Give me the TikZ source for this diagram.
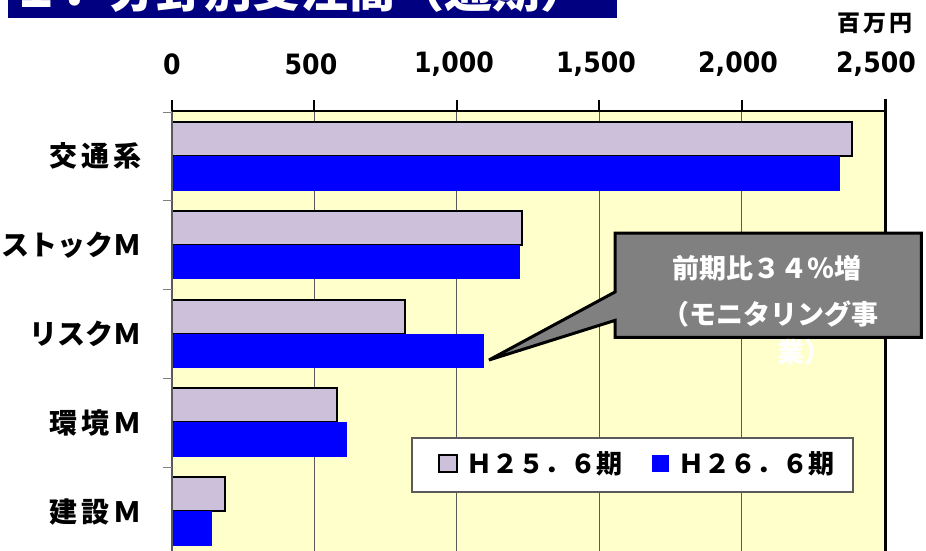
\documentclass[tikz,border=0pt]{standalone}
\usepackage{fontspec}
\newfontfamily\jp{Noto Sans CJK JP}
\newfontfamily\numfont[FakeStretch=0.9]{DejaVu Sans}
\definecolor{titlebg}{HTML}{000080}
\definecolor{plotbg}{HTML}{FFFFCC}
\definecolor{barA}{HTML}{CCC0DA}
\definecolor{barB}{HTML}{0000FF}
\definecolor{gridc}{HTML}{5A5A5A}
\definecolor{callgray}{HTML}{808080}
\tikzset{
  ticklabel/.style={font=\numfont\bfseries\fontsize{28}{30}\selectfont, inner sep=0pt},
  catlabel/.style={font=\jp\bfseries\fontsize{28}{30}\selectfont, anchor=east, inner sep=0pt},
  gridline/.style={draw=gridc, line width=1.3pt},
  barone/.style={draw=black, line width=2pt, fill=barA},
  bartwo/.style={fill=barB},
  legtext/.style={font=\jp\bfseries\fontsize{26}{28}\selectfont, anchor=west, inner sep=0pt},
  calltext/.style={font=\jp\bfseries\fontsize{27}{29}\selectfont, text=white, inner sep=0pt},
}
\begin{document}
\begin{tikzpicture}[x=1pt,y=-1pt]
\useasboundingbox (0,0) rectangle (926,551);
\fill[white] (0,0) rectangle (926,551);
% title bar (cut off at the top)
\fill[titlebg] (8,0) rectangle (617,18);
\begin{scope}
\clip (8,0) rectangle (617,18);
\node[anchor=base west, inner sep=0pt, text=white, font=\jp\bfseries\fontsize{48}{50}\selectfont] (title) at (12,8) {１．分野別受注高（通期）};
\end{scope}
% plot area
\fill[plotbg] (172,111) rectangle (885,551);
\foreach \v in {500,1000,1500,2000}
  \draw[gridline] ({172+\v*0.2848},111) -- ({172+\v*0.2848},551);
% bars
\foreach \g/\b [count=\k from 0] in {2386/2347,1228/1221,818/1095,579/614,186/140}{
  \pgfmathsetmacro{\yt}{111+88.8*\k}
  \draw[barone] (172,{\yt+11}) rectangle ({172+\g*0.2848},{\yt+45});
  \fill[bartwo] (172,{\yt+45}) rectangle ({172+\b*0.2848},{\yt+79.5});
}
% axes
\draw[gridc, line width=2pt] (172,100) -- (172,551);
\foreach \k in {0,...,4}
  \draw[gray, line width=1pt] (163,{112+88.8*\k}) -- (172,{112+88.8*\k});
\draw[black, line width=2.5pt] (172,111) -- (885,111);
\foreach \v in {0,500,1000,1500,2000}
  \draw[black, line width=2pt] ({172+\v*0.2848},100) -- ({172+\v*0.2848},111);
\draw[black, line width=3pt] (885,99) -- (885,551);
% tick labels
\node[ticklabel] (t0) at (172,64) {0};
\node[ticklabel] (t1) at (311,64) {500};
\node[ticklabel] (t2) at (454,64) {1,000};
\node[ticklabel] (t3) at (596,64) {1,500};
\node[ticklabel] (t4) at (738,64) {2,000};
\node[ticklabel] (t5) at (876,64) {2,500};
\node[font=\jp\bfseries\fontsize{23}{25}\selectfont\addfontfeature{LetterSpace=15}, inner sep=0pt] (unit) at (875,23) {百万円};
% category labels
\node[catlabel] (c1) at (142,156) {\addfontfeature{LetterSpace=15}交通系};
\node[catlabel] (c2) at (142,245) {ストックＭ};
\node[catlabel] (c3) at (142,334) {リスクＭ};
\node[catlabel] (c4) at (142,423) {\addfontfeature{LetterSpace=15}環境Ｍ};
\node[catlabel] (c5) at (142,512) {\addfontfeature{LetterSpace=15}建設Ｍ};
% legend
\node[draw=gridc, line width=1.5pt, fill=white, minimum width=441pt, minimum height=54pt, anchor=north west, inner sep=0pt] (legend) at (411,437) {};
\draw[barone] (439,455) rectangle (457,472);
\node[legtext] (l1) at (466,464) {Ｈ２５．６期};
\fill[barB] (652,455) rectangle (669,472);
\node[legtext] (l2) at (678,464) {Ｈ２６．６期};
% callout
\coordinate (tip) at (489,360);
\node[minimum width=306pt, minimum height=104pt, anchor=north west, inner sep=0pt] (callout) at (615,233) {};
\filldraw[fill=callgray, draw=black, line width=3pt, line join=miter]
  (callout.north west) -- (callout.north east) -- (callout.south east) -- (callout.south west)
  -- ([yshift=17pt]callout.south west) -- (tip) -- ([yshift=-59pt]callout.north west) -- cycle;
\node[calltext] (k1) at (767,268) {前期比３４％増};
\node[calltext] (k2) at (770,314) {（モニタリング事};
\node[calltext] (k3) at (804,352) {業）};
\end{tikzpicture}
\end{document}
